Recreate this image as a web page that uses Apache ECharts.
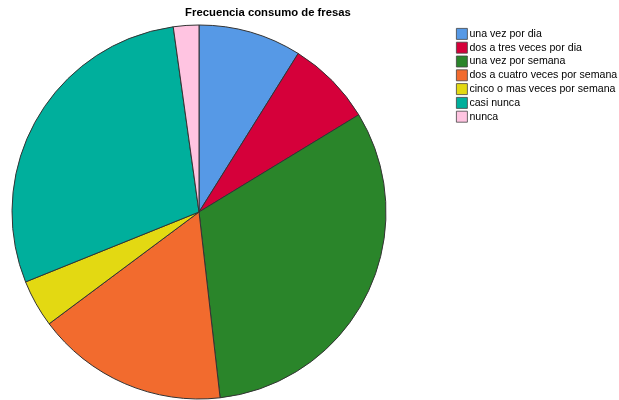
<!DOCTYPE html>
<html><head><meta charset="utf-8">
<script src="https://cdn.jsdelivr.net/npm/echarts@6/dist/echarts.min.js"></script>
<style>html,body{margin:0;padding:0;background:#fff}#c{width:619px;height:400px}</style>
</head><body><div id="c"></div>
<script>
const categories = ["una vez por dia","dos a tres veces por dia","una vez por semana","dos a cuatro veces por semana","cinco o mas veces por semana","casi nunca","nunca"];
const values = [8.9, 7.4, 31.9, 16.6, 4.1, 28.9, 2.2];
const colors = ["#5699E6","#D5003A","#2A852A","#F26B2E","#E3D912","#00AF9C","#FFC4E1"];
const chart = echarts.init(document.getElementById('c'), null, {renderer:'canvas'});
chart.setOption({
  animation:false,
  title:{text:"Frecuencia consumo de fresas", left:268, top:7, textAlign:'center', padding:0,
    textStyle:{fontFamily:'Liberation Sans, Arial, sans-serif', fontSize:11.3, fontWeight:'bold', color:'#000'}},
  legend:{orient:'vertical', left:456, top:28, padding:0, itemWidth:11, itemHeight:11, itemGap:2, icon:'rect',
    itemStyle:{borderColor:'#444', borderWidth:0.8},
    textStyle:{fontFamily:'Liberation Sans, Arial, sans-serif', fontSize:10.6, lineHeight:11, color:'#000', padding:[0,0,0,-3]},
    data:categories},
  series:[{type:'pie', center:[199,212], radius:187, startAngle:90, clockwise:true,
    label:{show:false}, labelLine:{show:false}, emphasis:{disabled:true},
    itemStyle:{borderColor:'#333', borderWidth:1},
    data:categories.map((n,i)=>({name:n, value:values[i], itemStyle:{color:colors[i]}}))}]
});
</script></body></html>
